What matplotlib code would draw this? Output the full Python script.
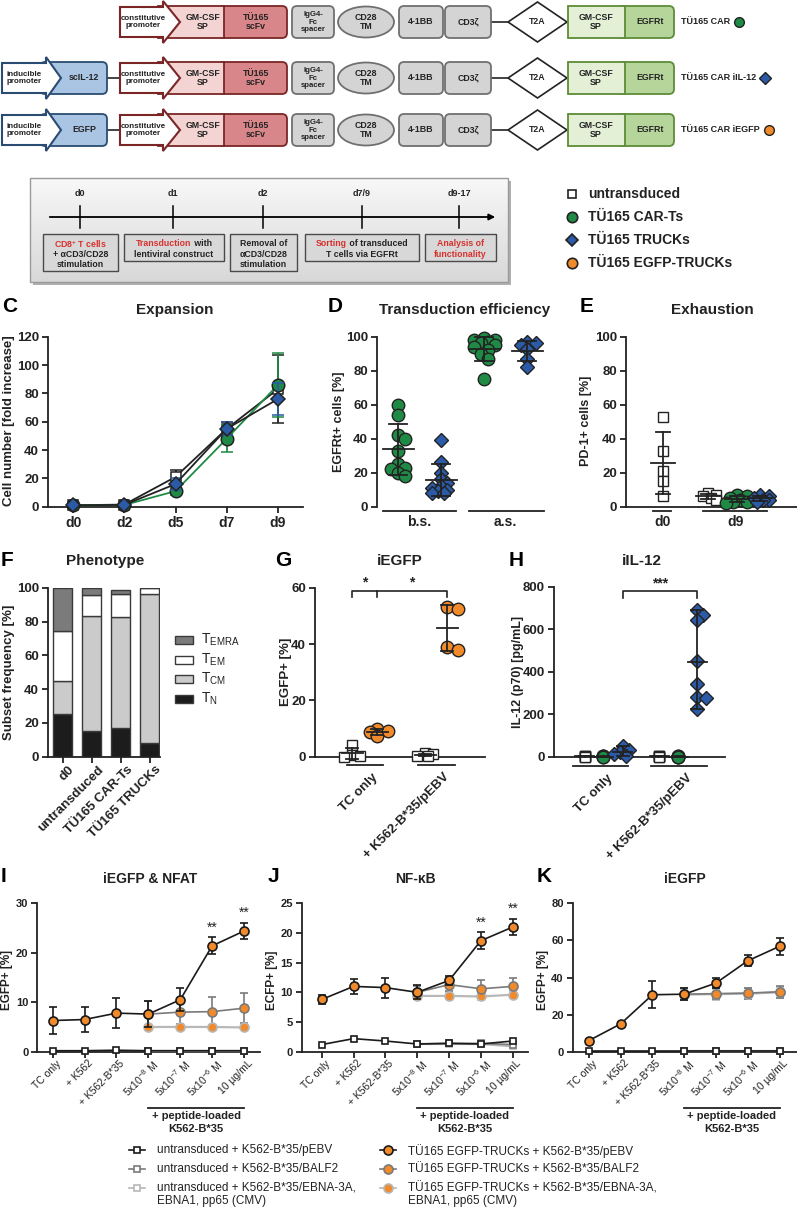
import numpy as np
import matplotlib.pyplot as plt
from matplotlib.patches import Rectangle, FancyBboxPatch, Ellipse, Polygon
from matplotlib.colors import LinearSegmentedColormap

plt.rcParams['font.family'] = ['Liberation Sans', 'DejaVu Sans']
plt.rcParams['mathtext.default'] = 'regular'

nan = np.nan

# ---------------- data ----------------
# C  expansion (fold increase)
c_days = ['d0', 'd2', 'd5', 'd7', 'd9']
c_untr = [1, 1.5, 21, 55, 83]
c_untr_sd = [0.3, 0.5, 5, 5, 24]
c_car = [1, 1.2, 11, 48, 86]
c_car_sd = [0.3, 0.4, 3, 9.5, 22.5]
c_truck = [1, 1.3, 16, 55, 76]
c_truck_sd = [0.3, 0.4, 4, 4.5, 11.5]

# D  transduction efficiency (EGFRt+ %)
d_groups = ['b.s.', 'a.s.']
d_car_bs = [60, 54, 42, 40, 33, 25, 23, 22, 20, 18]
d_truck_bs = [39, 26, 20, 16, 14, 12, 11, 10, 9, 8, 8]
d_car_as = [99, 98, 98, 97, 96, 95, 94, 92, 90, 87, 75]
d_truck_as = [97, 96, 95, 93, 87, 82]

# E  exhaustion (PD-1+ %)
e_groups = ['d0', 'd9']
e_d0_untr = [53, 33, 21, 15, 6]
e_d9_untr = [8, 7, 6, 5, 4]
e_d9_car = [7, 6, 5, 4, 3, 3, 2]
e_d9_truck = [7, 6, 5, 4, 4, 3]

# F  phenotype (% of cells)
f_groups = ['d0', 'untransduced', 'TÜ165 CAR-Ts', 'TÜ165 TRUCKs']
f_tn = [25, 15.5, 17, 8]
f_tcm = [20, 67.5, 65.5, 88]
f_tem = [29.5, 12.5, 14, 4]
f_temra = [25.5, 4.5, 2, 0]
f_subsets = ['T$_{EMRA}$', 'T$_{EM}$', 'T$_{CM}$', 'T$_{N}$']

# G  iEGFP (EGFP+ %)
gh_groups = ['TC only', '+ K562-B*35/pEBV']
g_untr_tc = [4, 0.6, 0.3, 0]
g_egfp_tc = [10, 9.2, 8.6, 7.2]
g_untr_k = [1.2, 0.8, 0.4, 0.1]
g_egfp_k = [53, 52.3, 39, 38]

# H  iIL-12 (pg/mL)
h_untr_tc = [3, 2, 1, 0, 0]
h_car_tc = [2, 1, 1, 0, 0]
h_truck_tc = [50, 30, 20, 12, 5]
h_untr_k = [3, 2, 1, 0, 0]
h_car_k = [2, 1, 0, 0, 0]
h_truck_k = [690, 665, 645, 450, 340, 282, 278, 225]

# I/J/K  reporter read-outs
xcond = ['TC only', '+ K562', '+ K562-B*35', '5x10$^{-8}$ M', '5x10$^{-7}$ M',
         '5x10$^{-6}$ M', '10 µg/mL']
leg_names = ['untransduced + K562-B*35/pEBV',
             'untransduced + K562-B*35/BALF2',
             'untransduced + K562-B*35/EBNA-3A,\nEBNA1, pp65 (CMV)',
             'TÜ165 EGFP-TRUCKs + K562-B*35/pEBV',
             'TÜ165 EGFP-TRUCKs + K562-B*35/BALF2',
             'TÜ165 EGFP-TRUCKs + K562-B*35/EBNA-3A,\nEBNA1, pp65 (CMV)']

i_untr_pebv = [0.2, 0.2, 0.3, 0.2, 0.2, 0.2, 0.2]
i_untr_balf2 = [nan, nan, nan, 0.2, 0.2, 0.2, 0.2]
i_untr_ebna = [nan, nan, nan, 0.2, 0.2, 0.2, 0.2]
i_egfp_pebv = [6.3, 6.5, 7.8, 7.6, 10.5, 21.4, 24.4]
i_egfp_pebv_sd = [2.8, 2.6, 3.0, 2.6, 2.3, 1.7, 1.7]
i_egfp_balf2 = [nan, nan, nan, 7.6, 8.0, 8.1, 8.8]
i_egfp_balf2_sd = [nan, nan, nan, 2.6, 2.5, 3.0, 3.0]
i_egfp_ebna = [nan, nan, nan, 5.0, 5.0, 5.0, 4.9]
i_egfp_ebna_sd = [nan, nan, nan, 0.3, 0.3, 0.3, 0.3]
i_stars = ['', '', '', '', '', '**', '**']

j_untr_pebv = [1.2, 2.2, 1.8, 1.3, 1.4, 1.3, 1.8]
j_untr_balf2 = [nan, nan, nan, 1.3, 1.4, 1.4, 1.2]
j_untr_ebna = [nan, nan, nan, 1.3, 1.3, 1.3, 0.9]
j_egfp_pebv = [8.8, 11.0, 10.8, 10.0, 12.0, 18.7, 21.0]
j_egfp_pebv_sd = [0.7, 1.3, 1.7, 1.2, 0.8, 1.4, 1.4]
j_egfp_balf2 = [nan, nan, nan, 10.0, 11.3, 10.6, 11.0]
j_egfp_balf2_sd = [nan, nan, nan, 1.0, 1.0, 1.4, 1.5]
j_egfp_ebna = [nan, nan, nan, 9.4, 9.4, 9.3, 9.6]
j_egfp_ebna_sd = [nan, nan, nan, 0.6, 0.6, 0.6, 0.6]
j_stars = ['', '', '', '', '', '**', '**']

k_untr_pebv = [0.2, 0.2, 0.2, 0.2, 0.2, 0.2, 0.2]
k_untr_balf2 = [nan, nan, nan, 0.2, 0.2, 0.2, 0.2]
k_untr_ebna = [nan, nan, nan, 0.2, 0.2, 0.2, 0.2]
k_egfp_pebv = [6, 15, 30.7, 31, 37, 49, 56.8]
k_egfp_pebv_sd = [0.6, 0.8, 7.2, 3.3, 2.8, 3.0, 4.5]
k_egfp_balf2 = [nan, nan, nan, 31, 31.3, 31.6, 32.3]
k_egfp_balf2_sd = [nan, nan, nan, 3.2, 3.0, 3.0, 3.3]
k_egfp_ebna = [nan, nan, nan, 30.8, 31.0, 31.3, 32.0]
k_egfp_ebna_sd = [nan, nan, nan, 3.0, 3.0, 3.0, 3.0]

# ---------------- colours ----------------
GREEN = '#1f8a45'
BLUE = '#2b5aa6'
ORANGE = '#f08a2a'
INK = '#222222'
RED_TXT = '#d7302c'

W, H = 797, 1210
fig = plt.figure(figsize=(W / 100, H / 100), dpi=100)
bg = fig.add_axes([0, 0, 1, 1])
bg.axis('off')
bg.set_xlim(0, W)
bg.set_ylim(H, 0)


def px_axes(l, t, r, b):
    ax = fig.add_axes([l / W, 1 - b / H, (r - l) / W, (b - t) / H])
    ax.patch.set_alpha(0)
    for s in ('top', 'right'):
        ax.spines[s].set_visible(False)
    for s in ('left', 'bottom'):
        ax.spines[s].set_linewidth(1.3)
        ax.spines[s].set_color(INK)
    ax.tick_params(width=1.3, length=4, pad=2.5, color=INK, labelcolor=INK)
    return ax


def set_yt(ax, ticks, size):
    ax.set_yticks(ticks)
    ax.set_yticklabels([str(t) for t in ticks], fontsize=size, fontweight='bold')


def txt(x, y, s, size=6.3, weight='bold', color=INK, ha='center', **kw):
    return bg.text(x, y, s, ha=ha, va='center', fontsize=size, fontweight=weight,
                   color=color, linespacing=1.05, **kw)


def ylab(x, y, s, size=9):
    bg.text(x, y, s, rotation=90, ha='center', va='center', fontsize=size,
            fontweight='bold', color=INK)


def letter(x, y, s):
    bg.text(x, y, s, ha='left', va='center', fontsize=15, fontweight='bold', color='black')


def title(x, y, s, size=11):
    bg.text(x, y, s, ha='center', va='center', fontsize=size, fontweight='bold', color=INK)


# ---------------- A : constructs ----------------
def rbox(x0, x1, yc, fc, ec, h=32, r=5, z=2):
    bg.add_patch(FancyBboxPatch((x0, yc - h / 2), x1 - x0, h,
                                boxstyle=f'round,pad=0,rounding_size={r}',
                                fc=fc, ec=ec, lw=1.3, zorder=z))


def arrow(x0, xb, xt, yc, ec):
    pts = [(x0, yc - 15), (xb, yc - 15), (xb, yc - 21), (xt, yc), (xb, yc + 21),
           (xb, yc + 15), (x0, yc + 15)]
    bg.add_patch(Polygon(pts, closed=True, fc='white', ec=ec, lw=1.5, zorder=4))


row_y = [22, 78, 130]
A_labels = ['TÜ165 CAR', 'TÜ165 CAR iIL-12', 'TÜ165 CAR iEGFP']
A_inducible = [None, 'scIL-12', 'EGFP']
A_marks = [('o', GREEN), ('D', BLUE), ('o', ORANGE)]
renderer = fig.canvas.get_renderer()

for yc, lab, ind, (mk, mc) in zip(row_y, A_labels, A_inducible, A_marks):
    if ind:
        rbox(40, 107, yc, '#aac5e3', '#2a4c72', z=3)
        arrow(2, 46, 61, yc, '#2a4c72')
        txt(24, yc, 'inducible\npromoter', size=5.8, zorder=5)
        txt(84, yc, ind, size=6.3, zorder=5)
        bg.plot([107, 120], [yc, yc], color=INK, lw=1.2, zorder=1)
    rbox(218, 287, yc, '#d9868a', '#7a2626', z=2)
    bg.add_patch(Rectangle((158, yc - 16), 66, 32, fc='#f3d4d2', ec='#7a2626', lw=1.3, zorder=3))
    arrow(120, 163, 180, yc, '#7a2626')
    txt(143, yc, 'constitutive\npromoter', size=5.8, zorder=5)
    txt(203, yc, 'GM-CSF\nSP', zorder=5)
    txt(256, yc, 'TÜ165\nscFv', zorder=5)
    rbox(292, 334, yc, '#d4d4d4', '#707070')
    txt(313, yc, 'IgG4-\nFc\nspacer', size=5.6, zorder=5)
    bg.add_patch(Ellipse((366, yc), 56, 31, fc='#d4d4d4', ec='#707070', lw=1.3, zorder=2))
    txt(366, yc, 'CD28\nTM', zorder=5)
    rbox(399, 443, yc, '#d4d4d4', '#707070')
    rbox(445, 491, yc, '#d4d4d4', '#707070')
    txt(421, yc, '4-1BB', zorder=5)
    txt(468, yc, 'CD3ζ', zorder=5)
    bg.plot([491, 508], [yc, yc], color=INK, lw=1.2, zorder=1)
    bg.add_patch(Polygon([(508, yc), (537.5, yc - 20), (567, yc), (537.5, yc + 20)],
                         closed=True, fc='white', ec=INK, lw=1.2, zorder=2))
    txt(537.5, yc, 'T2A', zorder=5)
    rbox(618, 674, yc, '#b6d59b', '#5d8c36')
    bg.add_patch(Rectangle((568, yc - 16), 57, 32, fc='#e4f0d6', ec='#5d8c36', lw=1.3, zorder=3))
    txt(596, yc, 'GM-CSF\nSP', zorder=5)
    txt(650, yc, 'EGFRt', zorder=5)
    tl = txt(681, yc, lab, size=6.5, ha='left')
    ext = tl.get_window_extent(renderer=renderer)
    bg.plot([ext.x1 + 9], [yc], mk, ms=7 if mk == 'o' else 6, mfc=mc, mec=INK, mew=1)

# ---------------- B : timeline ----------------
bg.add_patch(Rectangle((33.5, 181), 477.5, 104, fc='#b0b0b0', ec='none', zorder=0))
grad = np.linspace(0, 1, 100)[:, None]
bg.imshow(grad, extent=(30.5, 508, 282, 178), aspect='auto', zorder=0.5,
          cmap=LinearSegmentedColormap.from_list('g', ['#f8f8f8', '#d8d8d8']))
bg.set_xlim(0, W)
bg.set_ylim(H, 0)
bg.add_patch(Rectangle((30.5, 178), 477.5, 104, fc='none', ec='#9a9a9a', lw=1, zorder=1))
bg.annotate('', xy=(498, 217), xytext=(47, 217),
            arrowprops=dict(arrowstyle='-|>', color='black', lw=1.3, mutation_scale=9))
tl_days = ['d0', 'd1', 'd2', 'd7/9', 'd9-17']
tl_x = [80, 173, 263, 362, 459]
for x, d in zip(tl_x, tl_days):
    bg.plot([x, x], [206, 228], color='black', lw=1.1)
    txt(x, 193, d, size=6.5)

tl_boxes = [
    (43, 118, 271, [[('CD8$^{+}$ T cells', RED_TXT)], [('+ αCD3/CD28', INK)], [('stimulation', INK)]]),
    (124, 224, 261, [[('Transduction', RED_TXT), (' with', INK)], [('lentiviral construct', INK)]]),
    (230, 297, 271, [[('Removal of', INK)], [('αCD3/CD28', INK)], [('stimulation', INK)]]),
    (305, 419, 261, [[('Sorting', RED_TXT), (' of transduced', INK)], [('T cells via EGFRt', INK)]]),
    (425, 496, 261, [[('Analysis of', RED_TXT)], [('functionality', RED_TXT)]]),
]
for x0, x1, yb, lines in tl_boxes:
    bg.add_patch(Rectangle((x0, 234), x1 - x0, yb - 234, fc='#d8d8d8', ec='#4a4a4a', lw=1, zorder=2))
    xc = (x0 + x1) / 2
    for k, parts in enumerate(lines):
        y = 244 + 10.3 * k
        items = [txt(0, y, s, size=6.3, color=c, ha='left', zorder=3) for s, c in parts]
        widths = [it.get_window_extent(renderer=renderer).width for it in items]
        x = xc - sum(widths) / 2
        for it, w in zip(items, widths):
            it.set_x(x)
            x += w

grp_names = ['untransduced', 'TÜ165 CAR-Ts', 'TÜ165 TRUCKs', 'TÜ165 EGFP-TRUCKs']
grp_style = [('s', 'white', 6), ('o', GREEN, 7.5), ('D', BLUE, 6), ('o', ORANGE, 7.5)]
for k, (name, (mk, fc, ms)) in enumerate(zip(grp_names, grp_style)):
    y = 194 + 23 * k
    bg.plot([572], [y], mk, ms=ms, mfc=fc, mec=INK, mew=1.2)
    txt(588, y, name, size=10, ha='left')


# ---------------- helpers for dot plots ----------------
def swarm(vals, ppu, size_px, ppx):
    # compact horizontal spread of overlapping points (pixel space)
    placed = []
    res = np.zeros(len(vals))
    step = 0.28 * size_px
    cands = [0, step, -step, 2 * step, -2 * step, 3 * step, -3 * step]
    for i in np.argsort(vals)[::-1]:
        y = vals[i] * ppu
        best, best_d = 0.0, -1.0
        for c in cands:
            d = min([np.hypot(c - px, y - py) for px, py in placed] or [1e9])
            if d >= 0.62 * size_px:
                best = c
                break
            if d > best_d:
                best, best_d = c, d
        placed.append((best, y))
        res[i] = best / ppx
    return res


def dot_group(ax, x, vals, mk, fc, ms, ppu, ppx, hw, cw, summary='sd', spread=True):
    vals = np.asarray(vals, float)
    off = swarm(vals, ppu, ms * 1.39, ppx) if spread else np.zeros(len(vals))
    ax.plot(x + off, vals, mk, ls='none', mfc=fc, mec=INK, ms=ms, mew=1, clip_on=False, zorder=3)
    m = vals.mean()
    if summary == 'sd':
        s = vals.std(ddof=1)
        lo, hi = m - s, m + s
    else:
        lo, hi = vals.min(), vals.max()
    kw = dict(color=INK, lw=1.3, zorder=4, clip_on=False)
    ax.plot([x - hw, x + hw], [m, m], **kw)
    ax.plot([x, x], [lo, hi], **kw)
    ax.plot([x - cw, x + cw], [lo, lo], **kw)
    ax.plot([x - cw, x + cw], [hi, hi], **kw)


def under_line(ax, x0, x1, frac):
    ax.plot([x0, x1], [frac, frac], color=INK, lw=1.3, clip_on=False,
            transform=ax.get_xaxis_transform())


def under_text(ax, x, frac, s, size=10, rot=0, **kw):
    if rot:
        ax.text(x, frac, s, transform=ax.get_xaxis_transform(), rotation=rot, ha='right',
                va='top', rotation_mode='anchor', fontsize=size, color=INK, **kw)
    else:
        ax.text(x, frac, s, transform=ax.get_xaxis_transform(), ha='center', va='top',
                fontsize=size, fontweight='bold', color=INK, **kw)


# ---------------- C ----------------
letter(2, 307, 'C')
title(175, 310, 'Expansion')
axC = px_axes(48, 336.7, 303, 506.7)
xs = np.arange(len(c_days))
eb = dict(lw=1.3, elinewidth=1.3, capsize=4, capthick=1.3, mew=1.1, clip_on=False)
axC.errorbar(xs, c_untr, yerr=c_untr_sd, fmt='-s', color=INK, mfc='white', mec=INK, ms=7, zorder=3, **eb)
axC.errorbar(xs, c_car, yerr=c_car_sd, fmt='-o', color=GREEN, mfc=GREEN, mec=INK, ms=9, zorder=4, **eb)
axC.errorbar(xs, c_truck, yerr=c_truck_sd, fmt='-D', color=INK, ecolor=BLUE, mfc=BLUE, mec=INK,
             ms=7, zorder=5, **eb)
axC.set_xlim(-0.49, 4.49)
axC.set_ylim(0, 120)
set_yt(axC, [0, 20, 40, 60, 80, 100, 120], 9.5)
axC.set_xticks(xs)
axC.set_xticklabels(c_days, fontsize=10, fontweight='bold')
ylab(9, 421, 'Cell number [fold increase]', 9.5)

# ---------------- D ----------------
letter(328, 307, 'D')
title(465, 310, 'Transduction efficiency')
axD = px_axes(377, 336.7, 552, 506.7)
axD.spines['bottom'].set_visible(False)
axD.set_xlim(0.51, 4.58)
axD.set_ylim(0, 100)
axD.set_xticks([])
set_yt(axD, [0, 20, 40, 60, 80, 100], 9.5)
for x, vals, mk, fc, ms in [(1, d_car_bs, 'o', GREEN, 9), (2, d_truck_bs, 'D', BLUE, 7.5),
                            (3, d_car_as, 'o', GREEN, 9), (4, d_truck_as, 'D', BLUE, 7.5)]:
    dot_group(axD, x, vals, mk, fc, ms, 1.7, 43, 0.36, 0.2)
under_line(axD, 0.65, 2.35, -0.024)
under_line(axD, 2.65, 4.4, -0.024)
under_text(axD, 1.5, -0.05, d_groups[0])
under_text(axD, 3.5, -0.05, d_groups[1])
ylab(339, 422, 'EGFRt+ cells [%]')

# ---------------- E ----------------
letter(580, 307, 'E')
title(712, 310, 'Exhaustion')
axE = px_axes(626, 336.7, 797, 506.7)
axE.set_xlim(0, 171 / 27)
axE.set_ylim(0, 100)
axE.set_xticks([])
set_yt(axE, [0, 20, 40, 60, 80, 100], 9.5)
for x, vals, mk, fc, ms in [(1.37, e_d0_untr, 's', 'white', 6.5), (3.04, e_d9_untr, 's', 'white', 6.5),
                            (4.11, e_d9_car, 'o', GREEN, 9), (4.96, e_d9_truck, 'D', BLUE, 7.5)]:
    dot_group(axE, x, vals, mk, fc, ms, 1.7, 27, 0.45, 0.26)
under_line(axE, 1.0, 1.67, -0.024)
under_line(axE, 2.85, 5.22, -0.024)
under_text(axE, 1.37, -0.05, e_groups[0])
under_text(axE, 4.07, -0.05, e_groups[1])
ylab(586, 421, 'PD-1+ cells [%]')

# ---------------- F ----------------
letter(1, 560, 'F')
title(105, 561, 'Phenotype')
axF = px_axes(48, 587.7, 160, 756.7)
xf = np.arange(len(f_groups))
f_cols = ['#7b7b7b', 'white', '#cbcbcb', '#1c1c1c']
bottom = np.zeros(len(f_groups))
for vals, col in zip([f_tn, f_tcm, f_tem, f_temra], f_cols[::-1]):
    axF.bar(xf, vals, 0.66, bottom=bottom, color=col, edgecolor='#3a3a3a', lw=1, zorder=2)
    bottom += np.asarray(vals)
axF.set_xlim(-0.5, 3.36)
axF.set_ylim(0, 100)
set_yt(axF, [0, 20, 40, 60, 80, 100], 9.5)
axF.set_xticks(xf)
axF.set_xticklabels([])
for x, s in zip(xf, f_groups):
    under_text(axF, x + 0.2, -0.04, s, size=9.5, rot=45, fontweight='bold')
for k, (s, col) in enumerate(zip(f_subsets, f_cols)):
    y = 640 + 19.6 * k
    bg.add_patch(Rectangle((175, y - 4), 18, 8, fc=col, ec='#3a3a3a', lw=1))
    txt(201, y, s, size=10, weight='normal', ha='left')
ylab(9, 672, 'Subset frequency [%]', 9.5)

# ---------------- G ----------------
letter(275, 560, 'G')
title(400, 561, 'iEGFP')
axG = px_axes(315, 587.7, 485, 756.7)
axG.set_xlim(0, 6.8)
axG.set_ylim(0, 60)
axG.set_xticks([])
set_yt(axG, [0, 20, 40, 60], 9.5)
for x, vals, mk, fc, ms in [(1.48, g_untr_tc, 's', 'white', 7), (2.48, g_egfp_tc, 'o', ORANGE, 9),
                            (4.4, g_untr_k, 's', 'white', 7), (5.28, g_egfp_k, 'o', ORANGE, 9)]:
    dot_group(axG, x, vals, mk, fc, ms, 2.817, 25, 0.42, 0.25)
under_line(axG, 1.27, 2.73, -0.049)
under_line(axG, 4.12, 5.6, -0.049)
under_text(axG, 2.28, -0.085, gh_groups[0], size=9.5, rot=45, fontweight='bold')
under_text(axG, 5.12, -0.085, gh_groups[1], size=9.5, rot=45, fontweight='bold')
bk = dict(color=INK, lw=1.2, clip_on=False)
axG.plot([1.48, 1.48, 2.48, 2.48], [56.7, 59, 59, 56.7], **bk)
axG.plot([2.48, 5.28, 5.28], [59, 59, 56.7], **bk)
axG.text(1.98, 59.2, '*', ha='center', va='bottom', fontsize=10, fontweight='bold', color=INK)
axG.text(3.88, 59.2, '*', ha='center', va='bottom', fontsize=10, fontweight='bold', color=INK)
ylab(286, 672, 'EGFP+ [%]', 9.5)

# ---------------- H ----------------
letter(509, 560, 'H')
title(642, 561, 'iIL-12')
axH = px_axes(554, 586.7, 725, 756.7)
axH.set_xlim(0, 9)
axH.set_ylim(0, 800)
axH.set_xticks([])
set_yt(axH, [0, 200, 400, 600, 800], 9.5)
for x, vals, mk, fc, ms, sp in [(1.63, h_untr_tc, 's', 'white', 7, False),
                                (2.58, h_car_tc, 'o', GREEN, 9, False),
                                (3.63, h_truck_tc, 'D', BLUE, 7.5, True),
                                (5.53, h_untr_k, 's', 'white', 7, False),
                                (6.53, h_car_k, 'o', GREEN, 9, False),
                                (7.53, h_truck_k, 'D', BLUE, 7.5, True)]:
    dot_group(axH, x, vals, mk, fc, ms, 0.2125, 19, 0.5, 0.3, summary='range', spread=sp)
under_line(axH, 1.0, 3.9, -0.055)
under_line(axH, 5.1, 8.05, -0.055)
under_text(axH, 2.8, -0.09, gh_groups[0], size=9.5, rot=45, fontweight='bold')
under_text(axH, 6.95, -0.09, gh_groups[1], size=9.5, rot=45, fontweight='bold')
axH.plot([3.63, 3.63, 7.53, 7.53], [745, 780, 780, 745], **bk)
axH.text(5.58, 782, '***', ha='center', va='bottom', fontsize=10, fontweight='bold', color=INK)
ylab(518, 672, 'IL-12 (p70) [pg/mL]', 9)

# ---------------- I / J / K ----------------
styles = [('s', 'white', '#1a1a1a', 4.5), ('s', 'white', '#7a7a7a', 4.5), ('s', 'white', '#b8b8b8', 4.5),
          ('o', ORANGE, '#1a1a1a', 6.5), ('o', ORANGE, '#7a7a7a', 6.5), ('o', ORANGE, '#b8b8b8', 6.5)]


def line_panel(ax, series, stars, ymax, step):
    xi = np.arange(len(xcond))
    for k in [2, 1, 0, 5, 4, 3]:
        y, sd = series[k]
        mk, fc, col, ms = styles[k]
        ax.errorbar(xi, y, yerr=sd, fmt='-' + mk, color=col, mfc=fc, mec=col, ms=ms,
                    lw=1.6 if k in (2, 5) else 1.2, elinewidth=1.2, capsize=3, capthick=1.2,
                    mew=1.2, clip_on=False, zorder=3 + (k >= 3) + (k in (0, 3)))
    y, sd = series[3]
    for x, s, v, e in zip(xi, stars, y, sd):
        if s:
            ax.text(x, v + e + 0.02 * ymax, s, ha='center', va='bottom', fontsize=10, color=INK)
    ax.set_ylim(0, ymax)
    set_yt(ax, list(range(0, ymax + 1, step)), 8)
    ax.set_xticks(xi)
    ax.set_xticklabels([])
    for x, s in zip(xi, xcond):
        under_text(ax, x + 0.1, -0.045, s, size=7.5, rot=45)
    under_line(ax, 3, 6, -0.379)
    ax.text(4.5, -0.40, '+ peptide-loaded\nK562-B*35', transform=ax.get_xaxis_transform(),
            ha='center', va='top', fontsize=8, fontweight='bold', color=INK, linespacing=1.35)


letter(1, 877, 'I')
title(150, 879, 'iEGFP & NFAT', 10)
axI = px_axes(37.3, 903.3, 260, 1051.7)
axI.set_xlim(-0.48, 6.5)
line_panel(axI, [(i_untr_pebv, None), (i_untr_balf2, None), (i_untr_ebna, None),
                 (i_egfp_pebv, i_egfp_pebv_sd), (i_egfp_balf2, i_egfp_balf2_sd),
                 (i_egfp_ebna, i_egfp_ebna_sd)], i_stars, 30, 10)
ylab(7, 980, 'EGFP+ [%]', 8.5)

letter(268, 877, 'J')
title(415, 879, 'NF-κB', 10)
axJ = px_axes(301.7, 903.3, 528, 1051.7)
axJ.set_xlim(-0.63, 6.48)
line_panel(axJ, [(j_untr_pebv, None), (j_untr_balf2, None), (j_untr_ebna, None),
                 (j_egfp_pebv, j_egfp_pebv_sd), (j_egfp_balf2, j_egfp_balf2_sd),
                 (j_egfp_ebna, j_egfp_ebna_sd)], j_stars, 25, 5)
ylab(272, 980, 'ECFP+ [%]', 8.5)

letter(537, 877, 'K')
title(685, 879, 'iEGFP', 10)
axK = px_axes(572.7, 903.3, 797, 1051.7)
axK.set_xlim(-0.51, 6.55)
line_panel(axK, [(k_untr_pebv, None), (k_untr_balf2, None), (k_untr_ebna, None),
                 (k_egfp_pebv, k_egfp_pebv_sd), (k_egfp_balf2, k_egfp_balf2_sd),
                 (k_egfp_ebna, k_egfp_ebna_sd)], [''] * 7, 80, 20)
ylab(543, 980, 'EGFP+ [%]', 8.5)

# bottom legend
for k, name in enumerate(leg_names):
    mk, fc, col, ms = styles[k]
    xm = 137 if k < 3 else 388
    y = 1150 + 19 * (k % 3)
    bg.plot([xm - 8, xm + 8], [y, y], color=col, lw=1.2)
    bg.plot([xm], [y], mk, ms=ms, mfc=fc, mec=col, mew=1.2)
    bg.text(xm + 20, y - 6, name, ha='left', va='top', fontsize=8.5, color=INK, linespacing=1.1)

bg.set_xlim(0, W)
bg.set_ylim(H, 0)
fig.savefig('out.png', dpi=100)
